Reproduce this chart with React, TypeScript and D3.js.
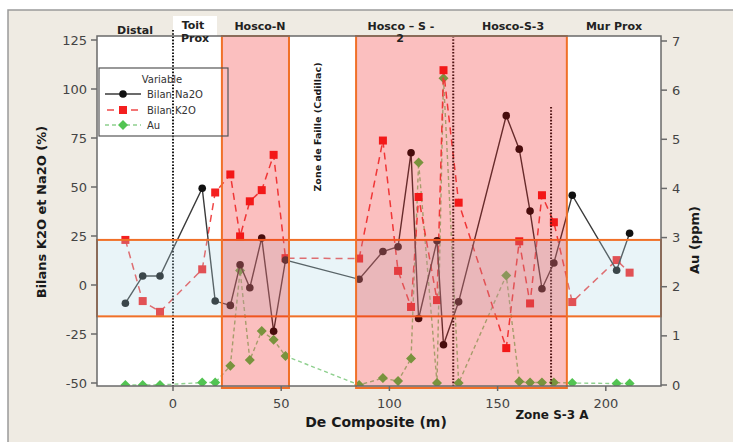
import React from 'react'
import * as d3 from 'd3'

// profondeur le long du forage (m)
const depth = [-22, -14, -6, 13.5, 19.5, 26.5, 31, 35.5, 41, 46.5, 52, 86, 97, 104, 110, 113.5, 122, 125, 132, 154, 160, 165, 170.5, 176, 184.5, 205, 211]
const na2o = [-9.3, 4.6, 4.6, 49.4, -8.2, -10.4, 10.3, -1.4, 24, -23.6, 12.7, 2.9, 17.1, 19.5, 67.5, -17.1, 22.6, -30.5, -8.6, 86.4, 69.3, 37.7, -1.9, 11.2, 45.8, 7.5, 26.4]
const k2o = [23, -8.2, -13.7, 8, 47.2, 56.4, 24.8, 42.7, 48.4, 66.4, 13.7, 13.5, 73.7, 7.2, -11.2, 44.9, -7.7, 109.6, 42, -32.2, 22.3, -9.4, 45.8, 32, -8.7, 12.7, 6.3]
const au = [0, 0, 0, 0.05, 0.05, 0.39, 2.33, 0.51, 1.1, 0.92, 0.59, 0, 0.14, 0.08, 0.54, 4.53, 0.04, 6.24, 0.04, 2.23, 0.07, 0.05, 0.05, 0.05, 0.04, 0.03, 0.03]

const xTicks = [0, 50, 100, 150, 200]
const leftTicks = [-50, -25, 0, 25, 50, 75, 100, 125]
const rightTicks = [0, 1, 2, 3, 4, 5, 6, 7]

// zones (en m) et bande de fond (en %)
const zonesRoses = [[22.6, 53.6], [84.6, 182]]
const bandeBleue = [-16, 23]
const lignesPointillees = [0, 129.5, 174.7]

const sections = [
  { label: 'Distal', x: 135, y: 30 },
  { label: 'Hosco-N', x: 260, y: 26 },
  { label: 'Hosco – S -', x: 401, y: 26 },
  { label: '2', x: 400, y: 38 },
  { label: 'Hosco-S-3', x: 513, y: 26 },
  { label: 'Mur Prox', x: 614, y: 26 },
]

const plot = { left: 97, right: 661, top: 36, bottom: 386 }

const App = () => {
  const x = d3.scaleLinear().domain([0, 200]).range([173, 605.8])
  const yL = d3.scaleLinear().domain([-50, 125]).range([383, 40])
  const yR = d3.scaleLinear().domain([0, 7]).range([385, 41])

  const na2oPts: [number, number][] = depth.map((d, i) => [x(d), yL(na2o[i])])
  const k2oPts: [number, number][] = depth.map((d, i) => [x(d), yL(k2o[i])])
  const auPts: [number, number][] = depth.map((d, i) => [x(d), yR(au[i])])
  const line = d3.line()

  const orange = '#f07028'
  const font = 'DejaVu Sans, Verdana, sans-serif'

  return (
    <svg width={733} height={442} style={{ position: 'absolute', left: 0, top: 0 }} fontFamily={font}>
      <rect x={8} y={10} width={740} height={450} fill='#efebe3' stroke='#9a9a9a' strokeWidth={1.5} />
      <defs>
        <clipPath id='clip'>
          <rect x={plot.left} y={plot.top} width={plot.right - plot.left} height={plot.bottom - plot.top} />
        </clipPath>
      </defs>
      <rect x={plot.left} y={plot.top} width={plot.right - plot.left} height={plot.bottom - plot.top} fill='white' />

      {/* Toit Prox box */}
      <rect x={173} y={16} width={44} height={20} fill='white' />

      {/* series */}
      <g clipPath='url(#clip)'>
        <path d={line(auPts) || ''} fill='none' stroke='#8fd08f' strokeWidth={1.4} strokeDasharray='4,3' />
        {auPts.map((p, i) => (
          <path key={'a' + i} d={`M${p[0]},${p[1] - 5}L${p[0] + 5},${p[1]}L${p[0]},${p[1] + 5}L${p[0] - 5},${p[1]}Z`} fill='#52c452' />
        ))}
        <path d={line(k2oPts) || ''} fill='none' stroke='#f04848' strokeWidth={1.5} strokeDasharray='7,5' />
        {k2oPts.map((p, i) => (
          <rect key={'k' + i} x={p[0] - 4} y={p[1] - 4} width={8} height={8} fill='#f42020' />
        ))}
        <path d={line(na2oPts) || ''} fill='none' stroke='#3a3a3a' strokeWidth={1.4} />
        {na2oPts.map((p, i) => (
          <circle key={'n' + i} cx={p[0]} cy={p[1]} r={3.8} fill='#111' />
        ))}
      </g>

      {/* dotted verticals */}
      {lignesPointillees.map((d, i) => (
        <line key={'v' + i} x1={x(d)} x2={x(d)} y1={i === 0 ? 30 : i === 1 ? plot.top : 107} y2={plot.bottom}
          stroke='#1a1a1a' strokeWidth={2} strokeDasharray='1.6,1.6' />
      ))}

      {/* blue band */}
      <rect x={plot.left} y={yL(bandeBleue[1])} width={plot.right - plot.left} height={yL(bandeBleue[0]) - yL(bandeBleue[1])}
        fill='rgba(173,216,230,0.27)' stroke={orange} strokeWidth={2} />

      {/* pink zones */}
      {zonesRoses.map((z, i) => (
        <rect key={'z' + i} x={x(z[0])} y={plot.top} width={x(z[1]) - x(z[0])} height={plot.bottom + 2 - plot.top}
          fill='rgba(240,0,0,0.25)' stroke={orange} strokeWidth={2} />
      ))}

      {/* frame & axes */}
      <rect x={plot.left} y={plot.top} width={plot.right - plot.left} height={plot.bottom - plot.top} fill='none' stroke='#6a6a6a' strokeWidth={1.5} />
      {leftTicks.map(t => (
        <g key={'l' + t}>
          <line x1={plot.left - 6} x2={plot.left} y1={yL(t)} y2={yL(t)} stroke='#6a6a6a' strokeWidth={1.5} />
          <text x={plot.left - 10} y={yL(t)} dy='0.35em' textAnchor='end' fontSize={13} fill='#444'>{t}</text>
        </g>
      ))}
      {rightTicks.map(t => (
        <g key={'r' + t}>
          <line x1={plot.right} x2={plot.right + 6} y1={yR(t)} y2={yR(t)} stroke='#6a6a6a' strokeWidth={1.5} />
          <text x={plot.right + 11} y={yR(t)} dy='0.35em' textAnchor='start' fontSize={13} fill='#444'>{t}</text>
        </g>
      ))}
      {xTicks.map(t => (
        <g key={'x' + t}>
          <line x1={x(t)} x2={x(t)} y1={plot.bottom} y2={plot.bottom + 5} stroke='#6a6a6a' strokeWidth={1.5} />
          <text x={x(t)} y={403} dy='0.35em' textAnchor='middle' fontSize={13} fill='#444'>{t}</text>
        </g>
      ))}

      {/* titles */}
      <text x={376} y={422} dy='0.35em' textAnchor='middle' fontSize={14} fontWeight='bold' fill='#1a1a1a'>De Composite (m)</text>
      <text x={552} y={415} dy='0.35em' textAnchor='middle' fontSize={12} fontWeight='bold' fill='#1a1a1a'>Zone S-3 A</text>
      <text transform='translate(41,212) rotate(-90)' dy='0.35em' textAnchor='middle' fontSize={13} fontWeight='bold' fill='#1a1a1a'>Bilans K2O et Na2O (%)</text>
      <text transform='translate(694,240) rotate(-90)' dy='0.35em' textAnchor='middle' fontSize={13} fontWeight='bold' fill='#1a1a1a'>Au (ppm)</text>
      <text transform='translate(318,127) rotate(-90)' dy='0.35em' textAnchor='middle' fontSize={9.5} fontWeight='bold' fill='#1a1a1a'>Zone de Faille (Cadillac)</text>

      {sections.map(s => (
        <text key={s.label} x={s.x} y={s.y} dy='0.35em' textAnchor='middle' fontSize={11} fontWeight='bold' fill='#222'>{s.label}</text>
      ))}
      <text x={193} y={25} dy='0.35em' textAnchor='middle' fontSize={11} fontWeight='bold' fill='#222'>Toit</text>
      <text x={195} y={38} dy='0.35em' textAnchor='middle' fontSize={11} fontWeight='bold' fill='#222'>Prox</text>

      {/* legend */}
      <rect x={99} y={68} width={129} height={68} fill='none' stroke='#555' strokeWidth={1.2} />
      <text x={162} y={79} dy='0.35em' textAnchor='middle' fontSize={10} fill='#333'>Variable</text>
      <g>
        <line x1={105} x2={141} y1={94} y2={94} stroke='#3a3a3a' strokeWidth={1.4} />
        <circle cx={123} cy={94} r={3.8} fill='#111' />
        <text x={147} y={94} dy='0.35em' fontSize={10} fill='#333'>Bilan Na2O</text>
        <line x1={105} x2={141} y1={110} y2={110} stroke='#f04848' strokeWidth={1.5} strokeDasharray='7,5' strokeDashoffset={-2} />
        <rect x={119} y={106} width={8} height={8} fill='#f42020' />
        <text x={147} y={110} dy='0.35em' fontSize={10} fill='#333'>Bilan K2O</text>
        <line x1={105} x2={141} y1={125} y2={125} stroke='#8fd08f' strokeWidth={1.4} strokeDasharray='4,3' />
        <path d='M123,120L128,125L123,130L118,125Z' fill='#52c452' />
        <text x={147} y={125} dy='0.35em' fontSize={10} fill='#333'>Au</text>
      </g>
    </svg>
  )
}

export default App
